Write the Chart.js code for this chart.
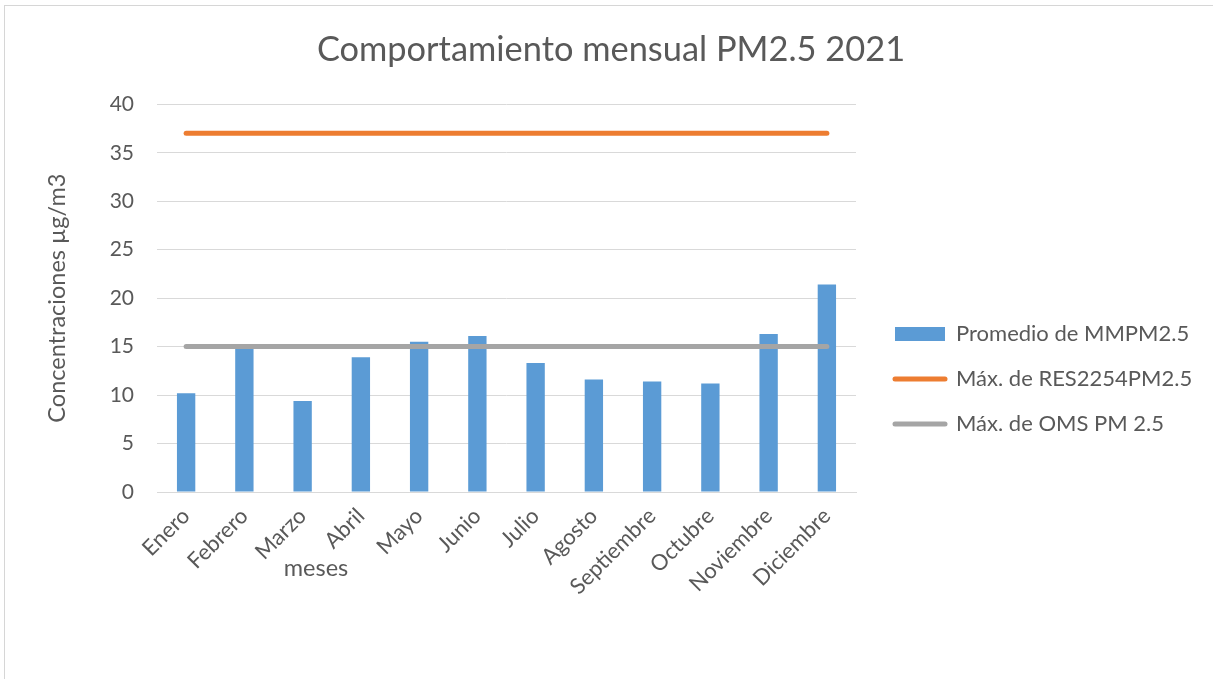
<!DOCTYPE html>
<html><head><meta charset="utf-8">
<script src="https://cdn.jsdelivr.net/npm/chart.js@4"></script>
<style>
html,body{margin:0;padding:0;background:#fff;overflow:hidden;}
#frame{position:absolute;left:4px;top:5px;width:1240px;height:700px;border-left:1px solid #d6d6d6;border-top:1px solid #d6d6d6;}
#wrap{position:absolute;left:0;top:0;width:1213px;height:679px;}
</style></head><body>
<div id="frame"></div>
<div id="wrap"><canvas id="c"></canvas></div>
<script>
const chartTitle = 'Comportamiento mensual PM2.5 2021';
const months = ['Enero','Febrero','Marzo','Abril','Mayo','Junio','Julio','Agosto','Septiembre','Octubre','Noviembre','Diciembre'];
const promedioMMPM25 = [10.2, 14.8, 9.4, 13.9, 15.5, 16.1, 13.3, 11.6, 11.4, 11.2, 16.3, 21.4];
const maxRES2254 = [37, 37, 37, 37, 37, 37, 37, 37, 37, 37, 37, 37];
const maxOMS = [15, 15, 15, 15, 15, 15, 15, 15, 15, 15, 15, 15];
const seriesNames = ['Promedio de MMPM2.5', 'Máx. de RES2254PM2.5', 'Máx. de OMS PM 2.5'];
const yTickValues = [0, 5, 10, 15, 20, 25, 30, 35, 40];
const yAxisTitle = 'Concentraciones µg/m3';
const xAxisTitle = 'meses';

const FONT = 'Lato, "Open Sans", sans-serif';
const TXT = '#595959';

const xTitlePlugin = {
  id: 'xTitlePlugin',
  afterDraw(chart) {
    const x = chart.scales.x;
    const ctx = chart.ctx;
    ctx.save();
    ctx.font = '23.5px ' + FONT;
    ctx.fillStyle = TXT;
    ctx.textAlign = 'center';
    ctx.textBaseline = 'alphabetic';
    ctx.fillText(xAxisTitle, x.getPixelForValue(2.23), x.top + 84);
    ctx.restore();
  }
};

const legendGap = {
  id: 'legendGap',
  beforeDraw(chart) {
    const lg = chart.legend;
    if (lg) {
      lg.left = chart.chartArea.right + 16;
      lg.right = chart.width;
      lg.width = lg.right - lg.left;
    }
  }
};

new Chart(document.getElementById('c'), {
  data: {
    labels: months,
    datasets: [
      { type: 'bar', label: seriesNames[0], data: promedioMMPM25, backgroundColor: '#5B9BD5', borderWidth: 0,
        barPercentage: 1, categoryPercentage: 0.315, order: 2 },
      { type: 'line', label: seriesNames[1], data: maxRES2254, borderColor: '#ED7D31', backgroundColor: '#ED7D31',
        borderWidth: 5, borderCapStyle: 'round', pointRadius: 0, pointHoverRadius: 0, order: 1 },
      { type: 'line', label: seriesNames[2], data: maxOMS, borderColor: '#A5A5A5', backgroundColor: '#A5A5A5',
        borderWidth: 5, borderCapStyle: 'round', pointRadius: 0, pointHoverRadius: 0, order: 0 }
    ]
  },
  options: {
    responsive: true,
    maintainAspectRatio: false,
    animation: false,
    layout: { padding: { left: 9, right: 0, top: 0, bottom: 25 } },
    plugins: {
      tooltip: { enabled: false },
      title: {
        display: true, text: chartTitle, color: TXT,
        font: { family: FONT, size: 34.4, weight: 'normal' },
        padding: { top: 29, bottom: 34 }
      },
      legend: {
        position: 'right',
        title: { display: true, text: '', font: { size: 10 }, padding: { top: 46, bottom: 46 } },
        labels: {
          color: TXT,
          font: { family: FONT, size: 22 },
          padding: 23,
          usePointStyle: true,
          pointStyleWidth: 50,
          boxHeight: 14,
          sort: (a, b) => a.datasetIndex - b.datasetIndex,
          generateLabels(chart) {
            return chart.data.datasets.map((ds, i) => ({
              text: ds.label,
              fillStyle: ds.type === 'bar' ? ds.backgroundColor : 'rgba(0,0,0,0)',
              strokeStyle: ds.type === 'bar' ? ds.backgroundColor : ds.borderColor,
              lineWidth: ds.type === 'bar' ? 0 : 5,
              lineCap: 'round',
              pointStyle: ds.type === 'bar' ? 'rect' : 'line',
              fontColor: TXT,
              hidden: false,
              datasetIndex: i
            }));
          }
        }
      }
    },
    scales: {
      x: {
        type: 'category',
        grid: { display: false },
        border: { display: true, color: '#d9d9d9', width: 1 },
        ticks: { color: TXT, font: { family: FONT, size: 22 }, minRotation: 45, maxRotation: 45, autoSkip: false, padding: 3 },
        afterFit(s) { s.height = 162; }
      },
      y: {
        type: 'linear', position: 'left', min: 0, max: 40,
        afterBuildTicks(s) { s.ticks = yTickValues.map(v => ({ value: v })); },
        grid: { color: '#d9d9d9', lineWidth: 1, drawTicks: false },
        border: { display: false },
        ticks: { color: TXT, font: { family: FONT, size: 21 }, padding: 23 },
        title: { display: true, text: yAxisTitle, color: TXT, font: { family: FONT, size: 23.5 }, padding: { top: 34, bottom: 0 } },
        afterFit(s) { s.width = 148; }
      },
      gap: {
        type: 'linear', position: 'right', display: true,
        grid: { display: false }, border: { display: false }, ticks: { display: false },
        afterFit(s) { s.width = 1213 - 856 - (1213 - 9) / 6; }
      }
    }
  },
  plugins: [xTitlePlugin, legendGap]
});
</script>
</body></html>
